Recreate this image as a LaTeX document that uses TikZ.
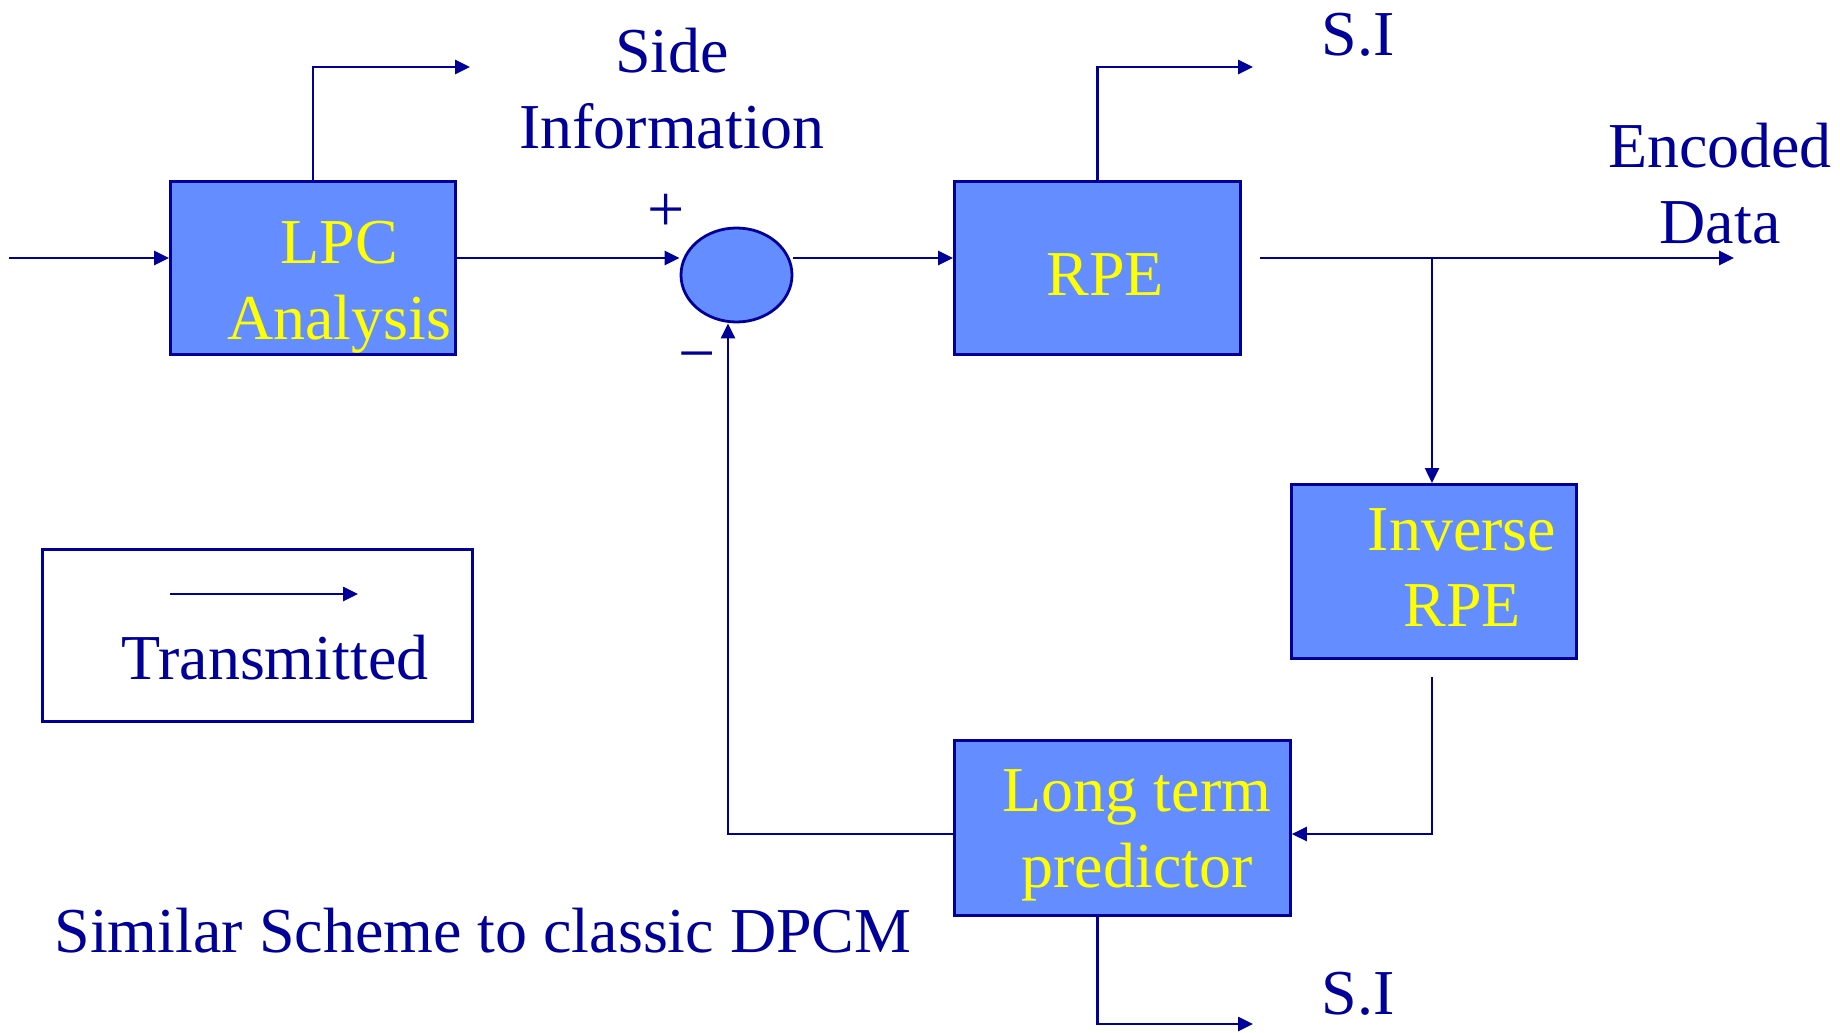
\documentclass[tikz,border=0pt]{standalone}
\usepackage{fontspec}
\setmainfont{Liberation Serif}
\usetikzlibrary{arrows.meta,shapes.geometric}
\definecolor{navy}{RGB}{0,0,153}
\definecolor{boxblue}{RGB}{100,142,255}
\definecolor{labelyellow}{RGB}{255,255,0}

\begin{document}
\begin{tikzpicture}[x=1pt,y=-1pt,
  blk/.style={draw=navy,line width=2.8pt,fill=boxblue,inner sep=0pt,anchor=north west},
  legendbox/.style={draw=navy,line width=2.8pt,fill=white,inner sep=0pt,anchor=north west},
  arr/.style={draw=navy,line width=2.6pt,-{Triangle[length=15pt,width=14pt]}},
  bluetxt/.style={text=navy,font=\fontsize{64}{76}\selectfont,align=center,inner sep=0pt},
  yellowtxt/.style={text=labelyellow,font=\fontsize{64}{76}\selectfont,align=center,inner sep=0pt},
  signtxt/.style={text=navy,font=\fontsize{66}{70}\selectfont,inner sep=0pt}
]
\useasboundingbox (0,0) rectangle (1840,1033);

% processing blocks
\node[blk,minimum width=285pt,minimum height=173pt] (lpc) at (169,180) {};
\node[blk,minimum width=286pt,minimum height=173pt] (rpe) at (953,180) {};
\node[blk,minimum width=285pt,minimum height=174pt] (irpe) at (1290,483) {};
\node[blk,minimum width=336pt,minimum height=175pt] (ltp) at (953,739) {};
\node[draw=navy,line width=2.8pt,fill=boxblue,ellipse,minimum width=111pt,minimum height=94pt,inner sep=0pt] (sum) at (736.5,275) {};

% block labels
\node[yellowtxt] (lpct) at (339,287) {LPC\\Analysis};
\node[yellowtxt] (rpet) at (1105,275) {RPE};
\node[yellowtxt] (irpet) at (1462,568) {Inverse\\RPE};
\node[yellowtxt] (ltpt) at (1137,835) {Long term\\predictor};

% summing junction signs
\node[signtxt] (plus) at (666,213) {+};
\node[signtxt] (minus) at (697,364) {−};

% free ends of the connectors
\coordinate (src) at (9,258);
\coordinate (enc) at (1734,258);
\coordinate (br) at (1432,258);
\coordinate (ib) at (1432,677);
\coordinate (fb) at (1432,834);
\coordinate (fbx) at (728,834);
\coordinate (si1) at (470,67);
\coordinate (si2) at (1253,67);
\coordinate (si3) at (1253,1024);

% forward path
\draw[arr] (src) -- (lpc.west |- src);
\draw[arr] (lpc.east |- src) -- (sum.west |- src);
\draw[arr] (sum.east |- src) -- (rpe.west |- src);
\draw[arr] ([xshift=18pt]rpe.east |- src) -- (enc);
\draw[arr] (br) -- (br |- irpe.north);

% feedback loop
\draw[arr] (ib) -- (fb) -- (ltp.east |- fb);
\draw[arr] (ltp.west |- fb) -- (fbx) -- (fbx |- sum.south);

% side information outputs
\draw[arr] (lpc.north) |- (si1);
\draw[arr] (rpe.north) |- (si2);
\draw[arr] (ltp.south -| rpe.north) |- (si3);

% outer labels
\node[bluetxt] (side) at (672,89) {Side\\Information};
\node[bluetxt] (si1t) at (1358,35) {S.I};
\node[bluetxt] (si3t) at (1358,994) {S.I};
\node[bluetxt] (enct) at (1720,184) {Encoded\\Data};

% legend
\node[legendbox,minimum width=430pt,minimum height=172pt] (legend) at (41,548) {};
\coordinate (la) at (170,594);
\coordinate (lb) at (358,594);
\draw[arr] (la) -- (lb);
\node[bluetxt] (legt) at (275,658) {Transmitted};

% caption
\node[bluetxt] (caption) at (483,931) {Similar Scheme to classic DPCM};
\end{tikzpicture}
\end{document}
